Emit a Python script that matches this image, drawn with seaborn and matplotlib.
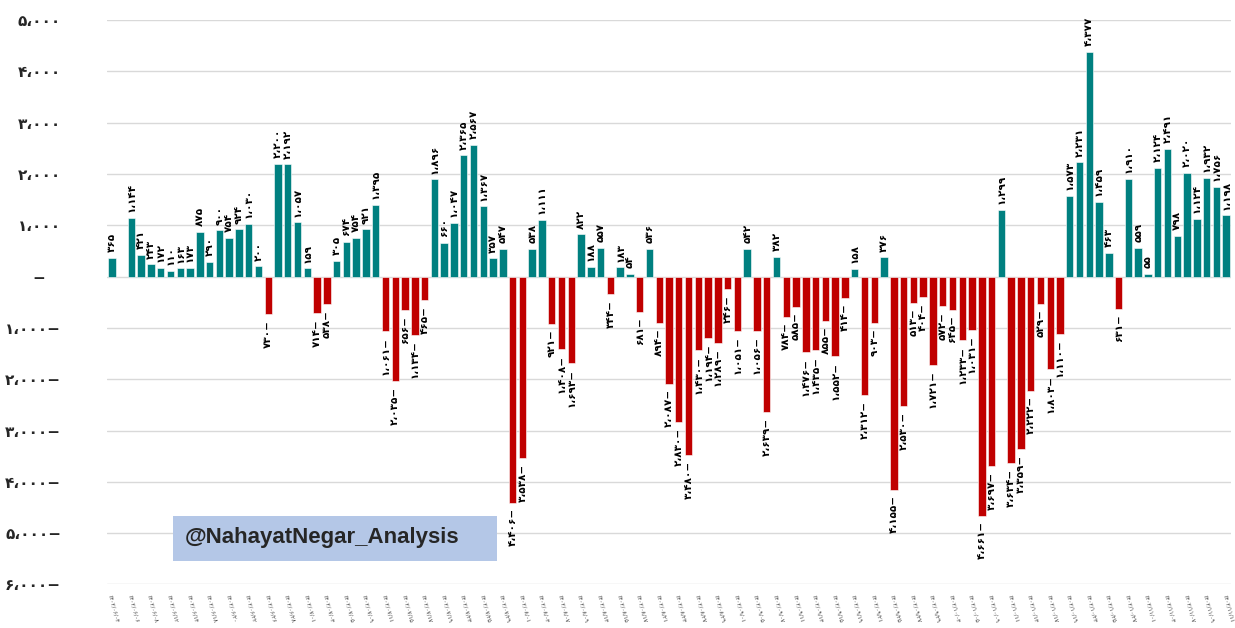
import numpy as np
import pandas as pd
import matplotlib
matplotlib.use('Agg')
from matplotlib import pyplot as plt
from matplotlib.patches import Rectangle
import seaborn as sns

# daily values (left to right), nan = empty slot
values = [
    365, np.nan, 1144, 421, 243, 172, 110, 163, 173, 875,
    290, 900, 754, 924, 1030, 200, -730, 2200, 2192, 1057,
    159, -714, -538, 305, 674, 754, 921, 1395, -1061, -2035,
    -656, -1134, -465, 1896, 660, 1047, 2365, 2567, 1367, 357,
    547, -4406, -3538, 538, 1111, -921, -1408, -1693, 822, 188,
    557, -344, 183, 54, -681, 536, -894, -2087, -2830, -3480,
    -1430, -1194, -1289, -246, -1051, 542, -1056, -2639, 382, -784,
    -585, -1476, -1435, -855, -1552, -414, 158, -2312, -903, 376,
    -4155, -2530, -513, -404, -1721, -572, -645, -1233, -1031, -4661,
    -3697, 1299, -3634, -3359, -2222, -529, -1803, -1110, 1573, 2231,
    4377, 1459, 463, -631, 1910, 559, 55, 2124, 2491, 798,
    2020, 1124, 1932, 1756, 1198,
]

# date labels, one every second bar
dates = [
    "1402/06/04", "1402/06/06", "1402/06/08", "1402/06/12", "1402/06/14",
    "1402/06/18", "1402/06/20", "1402/06/22", "1402/06/26", "1402/06/28",
    "1402/07/01", "1402/07/03", "1402/07/05", "1402/07/09", "1402/07/11",
    "1402/07/15", "1402/07/17", "1402/07/19", "1402/07/23", "1402/07/25",
    "1402/07/29", "1402/08/01", "1402/08/03", "1402/08/07", "1402/08/09",
    "1402/08/13", "1402/08/15", "1402/08/17", "1402/08/21", "1402/08/23",
    "1402/08/27", "1402/08/29", "1402/09/01", "1402/09/05", "1402/09/07",
    "1402/09/11", "1402/09/13", "1402/09/15", "1402/09/19", "1402/09/21",
    "1402/09/25", "1402/09/27", "1402/09/29", "1402/10/03", "1402/10/05",
    "1402/10/09", "1402/10/11", "1402/10/13", "1402/10/17", "1402/10/19",
    "1402/10/23", "1402/10/25", "1402/10/27", "1402/11/01", "1402/11/03",
    "1402/11/07", "1402/11/09", "1402/11/11",
]

yticks = [5000, 4000, 3000, 2000, 1000, 0, -1000, -2000, -3000, -4000, -5000, -6000]

FA = str.maketrans('0123456789,', '۰۱۲۳۴۵۶۷۸۹،')


def fa_num(v):
    if v == 0:
        return '−   '
    s = f'{abs(int(v)):,}'.translate(FA)
    return s + '−' if v < 0 else s


TEAL = '#008080'
RED = '#C00000'

slots = [str(i) for i in range(len(values))]
df = pd.DataFrame({'slot': slots, 'value': values})
df['sign'] = np.where(df['value'] < 0, 'neg', 'pos')

sns.set_theme(style='white')
plt.rcParams['font.family'] = ['DejaVu Sans']

fig = plt.figure(figsize=(12.35, 6.28), dpi=100)
ax = fig.add_axes([0.0866, 0.0693, 0.9102, 0.8987])

sns.barplot(data=df, x='slot', y='value', hue='sign', order=slots,
            palette={'pos': TEAL, 'neg': RED}, dodge=False, width=0.76,
            saturation=1, legend=False, edgecolor='white', linewidth=0.4, ax=ax)

for i, v in enumerate(values):
    if np.isnan(v):
        continue
    if v >= 0:
        ax.text(i, v + 110, fa_num(v), rotation=90, ha='center', va='bottom',
                fontsize=7.5, fontweight='bold', color='black')
    else:
        ax.text(i, v - 110, fa_num(v), rotation=90, ha='center', va='top',
                fontsize=7.5, fontweight='bold', color='black')

ax.set_ylim(-6000, 5000)
ax.set_xlim(-0.5, len(values) - 0.5)
ax.set_yticks(yticks)
ax.set_yticklabels([fa_num(t) for t in yticks], fontsize=11, fontweight='bold')
ax.tick_params(axis='y', length=0, pad=33)
ax.yaxis.grid(True, color='#D9D9D9', linewidth=1)
ax.set_axisbelow(True)

ax.set_xticks(range(0, len(values), 2))
ax.set_xticklabels([d.translate(FA) for d in dates], rotation=-75,
                   ha='left', rotation_mode='anchor', fontsize=4.2, color='#404040')
ax.tick_params(axis='x', length=0, pad=7)
ax.set_xlabel('')
ax.set_ylabel('')
for s in ax.spines.values():
    s.set_visible(False)

# watermark box
fig.patches.append(Rectangle((173 / 1235, 1 - 561 / 628), 324 / 1235, 45 / 628,
                             transform=fig.transFigure, facecolor='#B4C7E7',
                             edgecolor='none', zorder=5))
fig.text(185 / 1235, 1 - 537 / 628, '@NahayatNegar_Analysis', fontsize=16,
         fontweight='bold', color='#262626', va='center', ha='left',
         family=['Liberation Sans', 'DejaVu Sans'], zorder=6)

fig.savefig('out.png', dpi=100)
